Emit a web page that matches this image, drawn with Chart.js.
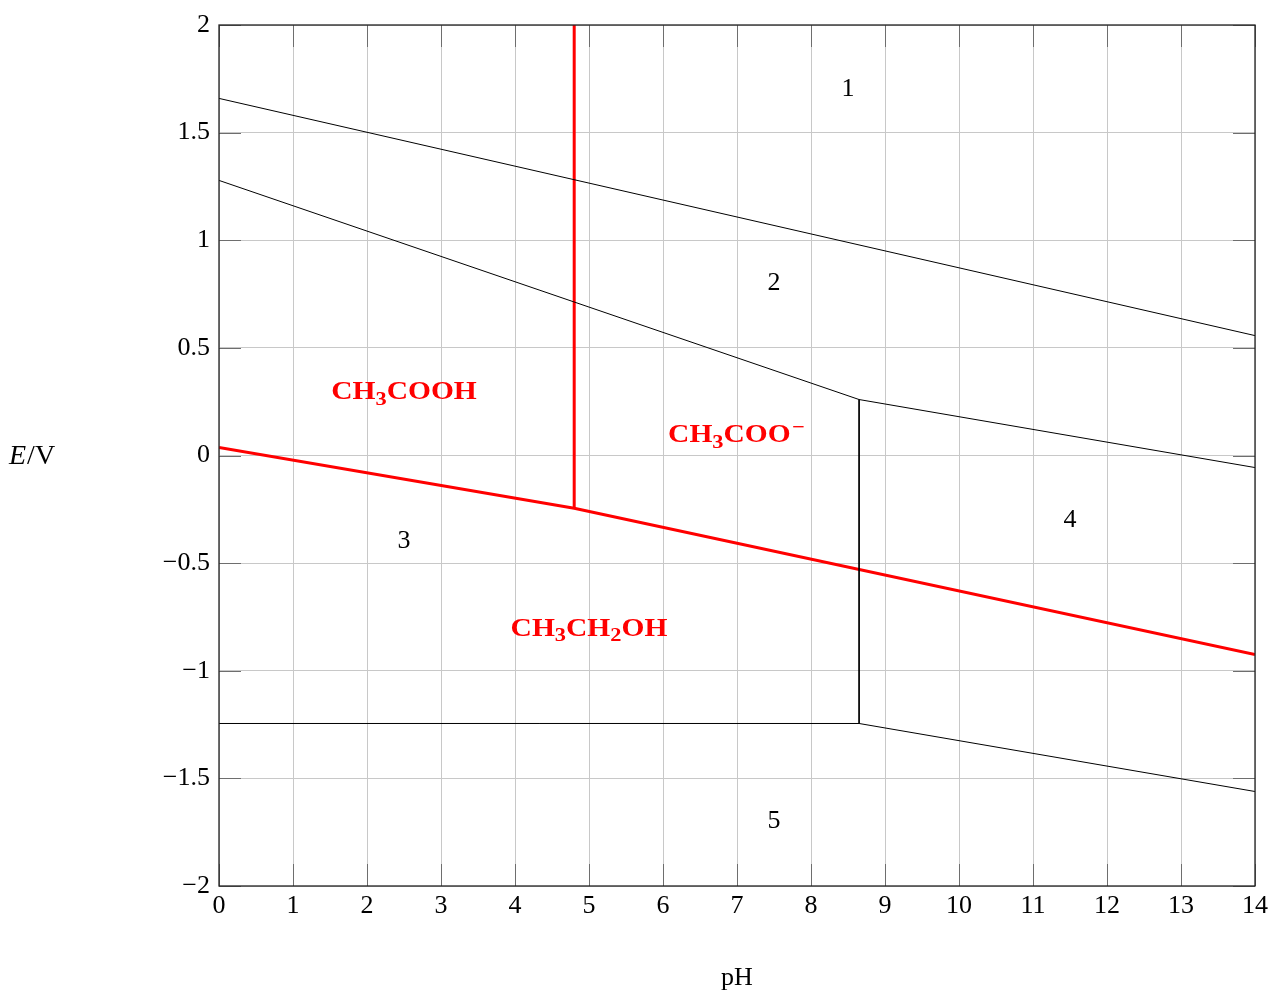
<!DOCTYPE html>
<html>
<head>
<meta charset="utf-8">
<script src="https://cdn.jsdelivr.net/npm/chart.js@4"></script>
<style>
  html, body { margin: 0; padding: 0; background: #fff; }
  #wrap { width: 1269px; height: 990px; }
</style>
</head>
<body>
<div id="wrap"><canvas id="c" width="1269" height="990"></canvas></div>
<script>
// ---- data ----
const xTicks = [0,1,2,3,4,5,6,7,8,9,10,11,12,13,14];
const yTicks = [-2,-1.5,-1,-0.5,0,0.5,1,1.5,2];

const line1X = [0, 14];
const line1Y = [1.659, 0.557];

const line2X = [0, 8.65, 14];
const line2Y = [1.278, 0.26, -0.056];

const line3X = [8.65, 8.65];
const line3Y = [0.26, -1.245];

const line4X = [0, 8.65, 14];
const line4Y = [-1.245, -1.245, -1.561];

const redX = [0, 4.8, 14];
const redY = [0.037, -0.245, -0.925];

const redVX = [4.8, 4.8];
const redVY = [2, -0.245];

const regionText = ['1','2','3','4','5'];
const regionX = [8.5, 7.5, 2.5, 11.5, 7.5];
const regionY = [1.7, 0.8, -0.4, -0.3, -1.7];

const speciesText = ['CH_3COOH', 'CH_3COO^−', 'CH_3CH_2OH'];
const speciesX = [2.5, 7, 5];
const speciesY = [0.3, 0.1, -0.8];

function pts(xs, ys) { return xs.map((x, i) => ({x: x, y: ys[i]})); }
function fmt(v) { return String(v).replace('-', '\u2212'); }

const SERIF = '"Liberation Serif", "DejaVu Serif", serif';

function drawChem(ctx, str, cx, cy, size, color, sx) {
  const parts = [];
  let i = 0;
  while (i < str.length) {
    const ch = str[i];
    if (ch === '_' || ch === '^') {
      parts.push({t: str[i+1], mode: ch});
      i += 2;
    } else {
      let j = i;
      while (j < str.length && str[j] !== '_' && str[j] !== '^') j++;
      parts.push({t: str.slice(i, j), mode: ''});
      i = j;
    }
  }
  const big = 'bold ' + size + 'px ' + SERIF;
  const small = 'bold ' + Math.round(size * 0.76) + 'px ' + SERIF;
  let total = 0;
  parts.forEach(p => { ctx.font = p.mode ? small : big; p.w = ctx.measureText(p.t).width + (p.mode === '^' ? 2 : 0); total += p.w; });
  ctx.save();
  ctx.translate(cx, 0);
  ctx.scale(sx, 1);
  let x = -total / 2;
  ctx.fillStyle = color;
  ctx.textAlign = 'left';
  ctx.textBaseline = 'alphabetic';
  const base = cy + size * 0.33;
  parts.forEach(p => {
    ctx.font = p.mode ? small : big;
    let y = base;
    if (p.mode === '_') y = base + size * 0.22;
    if (p.mode === '^') y = base - size * 0.36;
    ctx.fillText(p.t, x + (p.mode === '^' ? 1 : 0), y);
    x += p.w;
  });
  ctx.restore();
}

const decor = {
  id: 'decor',
  beforeDatasetsDraw(chart) {
    const ctx = chart.ctx;
    const a = chart.chartArea;
    const xs = chart.scales.x, ys = chart.scales.y;
    ctx.save();
    ctx.strokeStyle = '#6e6e6e';
    ctx.lineWidth = 1;
    const L = 22;
    ctx.beginPath();
    xTicks.forEach(t => {
      const px = Math.round(xs.getPixelForValue(t)) + 0.5;
      ctx.moveTo(px, a.top); ctx.lineTo(px, a.top + L);
      ctx.moveTo(px, a.bottom); ctx.lineTo(px, a.bottom - L);
    });
    yTicks.forEach(t => {
      const py = Math.round(ys.getPixelForValue(t)) + 0.5;
      ctx.moveTo(a.left, py); ctx.lineTo(a.left + L, py);
      ctx.moveTo(a.right, py); ctx.lineTo(a.right - L, py);
    });
    ctx.stroke();
    ctx.restore();
  },
  afterDraw(chart) {
    const ctx = chart.ctx;
    const a = chart.chartArea;
    const xs = chart.scales.x, ys = chart.scales.y;
    ctx.save();
    ctx.strokeStyle = '#222';
    ctx.lineWidth = 1.3;
    ctx.strokeRect(a.left, a.top, a.right - a.left, a.bottom - a.top);

    ctx.fillStyle = '#000';
    ctx.font = '26px ' + SERIF;
    ctx.textAlign = 'center';
    ctx.textBaseline = 'middle';
    regionText.forEach((t, i) => {
      ctx.fillText(t, xs.getPixelForValue(regionX[i]), ys.getPixelForValue(regionY[i]));
    });
    speciesText.forEach((t, i) => {
      drawChem(ctx, t, xs.getPixelForValue(speciesX[i]), ys.getPixelForValue(speciesY[i]), 25, '#ff0000', 1.18);
    });

    ctx.fillStyle = '#000';
    ctx.textBaseline = 'alphabetic';
    ctx.textAlign = 'left';
    ctx.font = 'italic 28px ' + SERIF;
    const ey = 464;
    ctx.fillText('E', 9, ey);
    const ew = ctx.measureText('E').width;
    ctx.font = '28px ' + SERIF;
    ctx.fillText('/V', 9 + ew + 1, ey);
    ctx.font = '26px ' + SERIF;
    ctx.textAlign = 'center';
    ctx.fillText('pH', (a.left + a.right) / 2, 985);
    ctx.restore();
  }
};

const thin = { borderColor: '#000', borderWidth: 1, pointRadius: 0, showLine: true, fill: false, tension: 0 };
const red = { borderColor: '#ff0000', borderWidth: 3, pointRadius: 0, showLine: true, fill: false, tension: 0 };

new Chart(document.getElementById('c'), {
  type: 'scatter',
  data: {
    datasets: [
      Object.assign({ data: pts(line1X, line1Y) }, thin),
      Object.assign({ data: pts(line2X, line2Y) }, thin),
      Object.assign({ data: pts(line3X, line3Y) }, thin),
      Object.assign({ data: pts(line4X, line4Y) }, thin),
      Object.assign({ data: pts(redX, redY) }, red),
      Object.assign({ data: pts(redVX, redVY) }, red)
    ]
  },
  options: {
    responsive: false,
    animation: false,
    devicePixelRatio: 1,
    layout: { padding: { left: 0, right: 14, top: 25, bottom: 0 } },
    plugins: { legend: { display: false }, tooltip: { enabled: false }, title: { display: false } },
    scales: {
      x: {
        type: 'linear', min: 0, max: 14,
        afterFit(s) { s.height = 104; s.paddingRight = 0; s.paddingLeft = 0; },
        afterBuildTicks(s) { s.ticks = xTicks.map(v => ({ value: v })); },
        ticks: { callback: v => fmt(v), color: '#000', font: { family: SERIF, size: 26 }, padding: 5, maxRotation: 0, autoSkip: false },
        grid: { color: '#c8c8c8', lineWidth: 1, drawTicks: false },
        border: { display: false }
      },
      y: {
        type: 'linear', min: -2, max: 2,
        afterFit(s) { s.width = 219; s.paddingTop = 0; s.paddingBottom = 0; },
        afterBuildTicks(s) { s.ticks = yTicks.map(v => ({ value: v })); },
        ticks: { callback: v => fmt(v), color: '#000', font: { family: SERIF, size: 26 }, padding: 9, autoSkip: false },
        grid: { color: '#c8c8c8', lineWidth: 1, drawTicks: false },
        border: { display: false }
      }
    }
  },
  plugins: [decor]
});
</script>
</body>
</html>
